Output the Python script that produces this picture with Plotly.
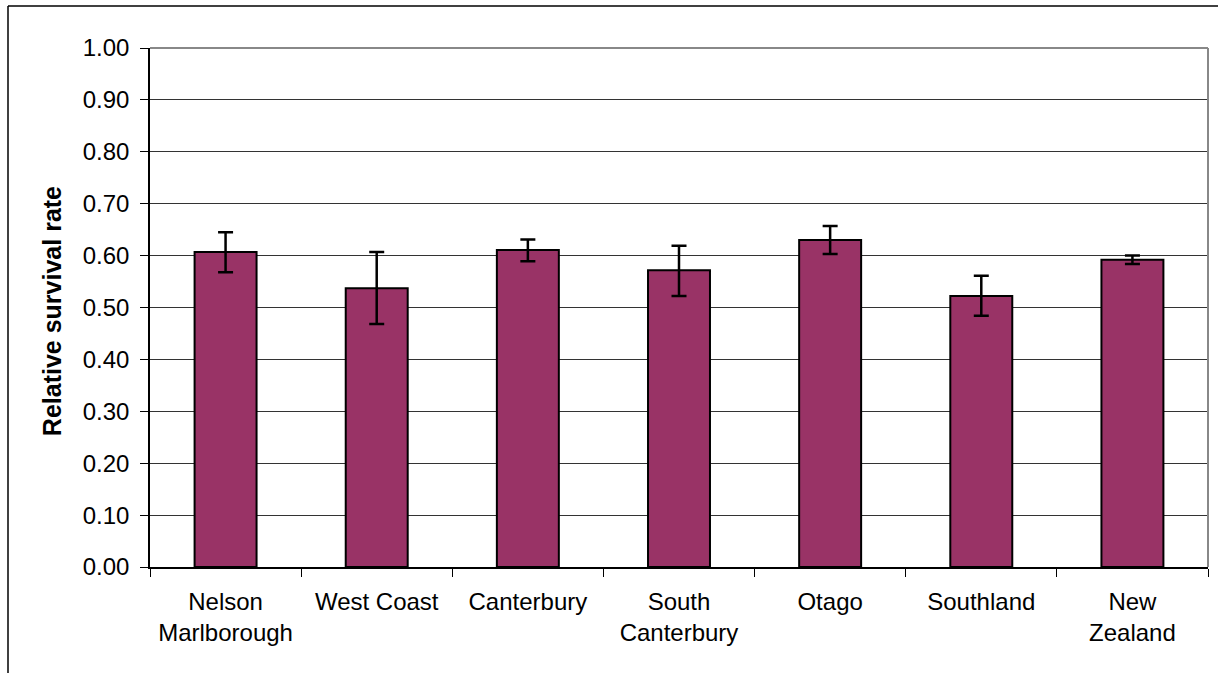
import plotly.graph_objects as go

regions = ["Nelson<br>Marlborough", "West Coast", "Canterbury", "South<br>Canterbury",
           "Otago", "Southland", "New<br>Zealand"]
survival = [0.607, 0.537, 0.611, 0.572, 0.630, 0.522, 0.592]
err_upper = [0.038, 0.070, 0.020, 0.047, 0.027, 0.039, 0.008]
err_lower = [0.039, 0.069, 0.022, 0.050, 0.027, 0.038, 0.008]
y_ticks = [0.0, 0.1, 0.2, 0.3, 0.4, 0.5, 0.6, 0.7, 0.8, 0.9, 1.0]

FONT = "Liberation Sans, Arial, sans-serif"

W, H = 1218, 673
L, R, T, B = 150, 10, 48, 106
pw = W - L - R
ph = H - T - B

fig = go.Figure()
fig.add_trace(go.Bar(
    x=regions, y=survival,
    marker=dict(color="#993366", line=dict(color="black", width=2)),
    width=0.41,
    error_y=dict(type="data", symmetric=False, array=err_upper, arrayminus=err_lower,
                 color="black", thickness=2.5, width=7.5),
))

ox = (8 - L) / pw          # outer border left edge (paper coords)
oy = (H - B - 6) / ph      # outer border top edge (paper coords)

fig.update_layout(
    width=W, height=H,
    margin=dict(l=L, r=R, t=T, b=B),
    paper_bgcolor="white", plot_bgcolor="white",
    showlegend=False,
    font=dict(family=FONT, size=24, color="black"),
    xaxis=dict(
        type="category", tickson="boundaries", ticks="outside", ticklen=8,
        tickcolor="black", showline=True, linecolor="black", linewidth=1.5,
        showgrid=False, tickfont=dict(size=24, family=FONT),
        ticklabelstandoff=12,
    ),
    yaxis=dict(
        range=[0, 1.0], tickvals=y_ticks, tickformat=".2f",
        ticks="outside", ticklen=8, tickcolor="black",
        showline=True, linecolor="black", linewidth=1.5,
        showgrid=True, gridcolor="#333333", gridwidth=1, zeroline=False,
        tickfont=dict(size=24, family=FONT),
        ticklabelstandoff=6,
    ),
    annotations=[dict(
        text="<b>Relative survival rate</b>", textangle=-90,
        xref="paper", yref="paper", x=(52 - L) / pw, y=0.493,
        xanchor="center", yanchor="middle", showarrow=False,
        font=dict(size=25, family=FONT),
    )],
    shapes=[
        # plot area top and right border (grey)
        dict(type="line", xref="paper", yref="paper", x0=0, x1=1, y0=1, y1=1,
             line=dict(color="#888888", width=2)),
        dict(type="line", xref="paper", yref="paper", x0=1, x1=1, y0=0, y1=1,
             line=dict(color="#888888", width=2)),
        # outer chart border (left and top)
        dict(type="line", xref="paper", yref="paper", x0=ox, x1=ox, y0=-0.3, y1=oy,
             line=dict(color="black", width=1.5)),
        dict(type="line", xref="paper", yref="paper", x0=ox, x1=1.2, y0=oy, y1=oy,
             line=dict(color="black", width=1.5)),
    ],
)

fig.write_html("out.html", config={"displayModeBar": False},
               post_script="document.body.style.margin='0';")
